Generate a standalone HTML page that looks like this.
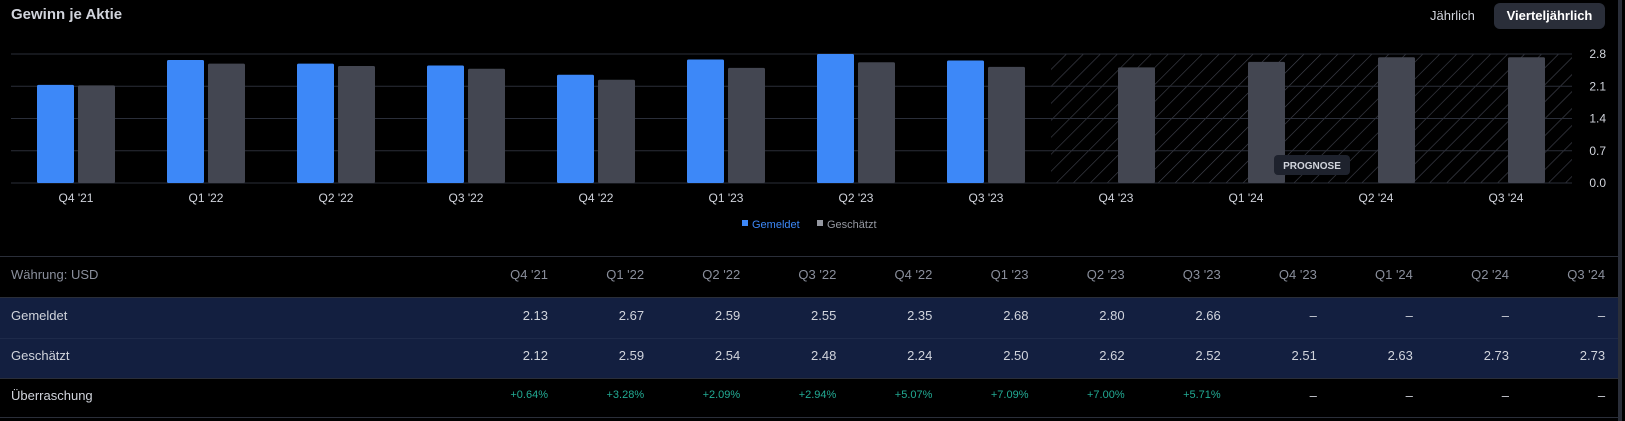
<!DOCTYPE html>
<html><head><meta charset="utf-8">
<style>
html,body{margin:0;padding:0;background:#000;width:1625px;height:421px;overflow:hidden;font-family:"Liberation Sans",sans-serif;}
#root{position:relative;width:1625px;height:421px;}
.t{position:absolute;white-space:nowrap;}
</style></head>
<body><div id="root">
<div class="t" style="left:11px;top:6px;font-size:15px;font-weight:bold;color:#d1d4dc;">Gewinn je Aktie</div>
<div class="t" style="left:1430px;top:8px;font-size:13px;color:#d1d4dc;">Jährlich</div>
<div class="t" style="left:1494px;top:3px;width:111px;height:26px;line-height:26px;text-align:center;background:#2a2e39;border-radius:6px;font-size:13px;font-weight:bold;color:#fff;">Vierteljährlich</div>
<div style="position:absolute;left:1618px;top:0;width:4px;height:421px;background:#2a2e39;"></div>
<svg id="chart" width="1625" height="240" style="position:absolute;left:0;top:0;">
<defs><pattern id="hatch" patternUnits="userSpaceOnUse" width="12" height="12" patternTransform="rotate(45)"><line x1="0" y1="0" x2="0" y2="12" stroke="#434651" stroke-width="1.2"/></pattern></defs>
<g id="g"></g></svg>
<div id="table"></div>
</div>
<script>
const categories=["Q4 '21","Q1 '22","Q2 '22","Q3 '22","Q4 '22","Q1 '23","Q2 '23","Q3 '23","Q4 '23","Q1 '24","Q2 '24","Q3 '24"];
const reported=[2.13,2.67,2.59,2.55,2.35,2.68,2.80,2.66,null,null,null,null];
const estimated=[2.12,2.59,2.54,2.48,2.24,2.50,2.62,2.52,2.51,2.63,2.73,2.73];
const surprise=["+0.64%","+3.28%","+2.09%","+2.94%","+5.07%","+7.09%","+7.00%","+5.71%",null,null,null,null];
const yTicks=[0,0.7,1.4,2.1,2.8];
const forecastStart=8;
const NS="http://www.w3.org/2000/svg";
const g=document.getElementById('g');
const y0=183,yTop=54,yMax=2.8;
function yS(v){return y0-(v/yMax)*(y0-yTop);}
function xC(i){return 76+130*i;}
function el(t,a){const e=document.createElementNS(NS,t);for(const k in a)e.setAttribute(k,a[k]);g.appendChild(e);return e;}
const hx=xC(forecastStart)-65;
const h=el('rect',{x:hx,y:yTop,width:1572-hx,height:y0-yTop,fill:'url(#hatch)'});


yTicks.forEach(v=>{
 const l=el('line',{x1:11,x2:1572,y1:yS(v),y2:yS(v),stroke:'#2a2e39','stroke-width':1});
 
 
 const t=el('text',{x:1606,y:yS(v)+4,'text-anchor':'end',fill:'#d1d4dc','font-size':12});
 t.textContent=v.toFixed(1);
 
 
});
categories.forEach((c,i)=>{
 if(reported[i]!=null){
  const b=el('rect',{x:xC(i)-39,y:yS(reported[i]),width:37,height:y0-yS(reported[i]),fill:'#3d88f8',rx:1.5});
  
  
 }
 const b2=el('rect',{x:xC(i)+2,y:yS(estimated[i]),width:37,height:y0-yS(estimated[i]),fill:'#434651',rx:1.5});
 
 
 const t=el('text',{x:xC(i),y:202,'text-anchor':'middle',fill:'#d1d4dc','font-size':12});
 t.textContent=c;
 
 
});
const tag=el('rect',{x:1274,y:155,width:76,height:20,rx:4,fill:'#1e222d'});


const tt=el('text',{x:1312,y:169,'text-anchor':'middle',fill:'#d1d4dc','font-size':10,'font-weight':'bold'});
tt.textContent='PROGNOSE';


[['#3d88f8','Gemeldet',742,'legend-reported'],['#9598a1','Geschätzt',817,'legend-estimated']].forEach(d=>{
 const r=el('rect',{x:d[2],y:220,width:6,height:6,fill:d[0]});
 
 
 const t=el('text',{x:d[2]+10,y:228,fill:d[1]=='Gemeldet'?'#3d88f8':'#9598a1','font-size':11});
 t.textContent=d[1];
 
 
});
const tb=document.getElementById('table');
function div(css,txt,name){const d=document.createElement('div');d.className='t';d.style.cssText=css;if(txt!=null)d.textContent=txt;tb.appendChild(d);return d;}
div('left:0;top:297px;width:1618px;height:81px;background:#131f40;',null,'table-highlight-rows');
[256,297,338,378,417].forEach(y=>div('left:0;top:'+y+'px;width:1618px;height:1px;background:'+(y==338?'#1e2a4a':'#2a2e39')+';',null,'table-divider'));
const rowsY=[275,316,356,396];
div('left:11px;top:'+(rowsY[0]-8)+'px;font-size:13px;color:#8a8f9c;','Währung: USD','currency-label');
div('left:11px;top:'+(rowsY[1]-8)+'px;font-size:13px;color:#d1d4dc;','Gemeldet','row-label-reported');
div('left:11px;top:'+(rowsY[2]-8)+'px;font-size:13px;color:#d1d4dc;','Geschätzt','row-label-estimated');
div('left:11px;top:'+(rowsY[3]-8)+'px;font-size:13px;color:#d1d4dc;','Überraschung','row-label-surprise');
function cell(i,r,txt,col,fs,name){const right=1625-(548+96.1*i);div('right:'+right+'px;top:'+(rowsY[r]-fs*0.62)+'px;font-size:'+fs+'px;color:'+col+';text-align:right;',txt,name);}
categories.forEach((c,i)=>{
 cell(i,0,c,'#8a8f9c',13,'col-header');
 cell(i,1,reported[i]!=null?reported[i].toFixed(2):'–','#d1d4dc',13,'cell-reported');
 cell(i,2,estimated[i].toFixed(2),'#d1d4dc',13,'cell-estimated');
 cell(i,3,surprise[i]!=null?surprise[i]:'–',surprise[i]!=null?'#22ab94':'#d1d4dc',surprise[i]!=null?11:13,'cell-surprise');
});
</script>
</body></html>
